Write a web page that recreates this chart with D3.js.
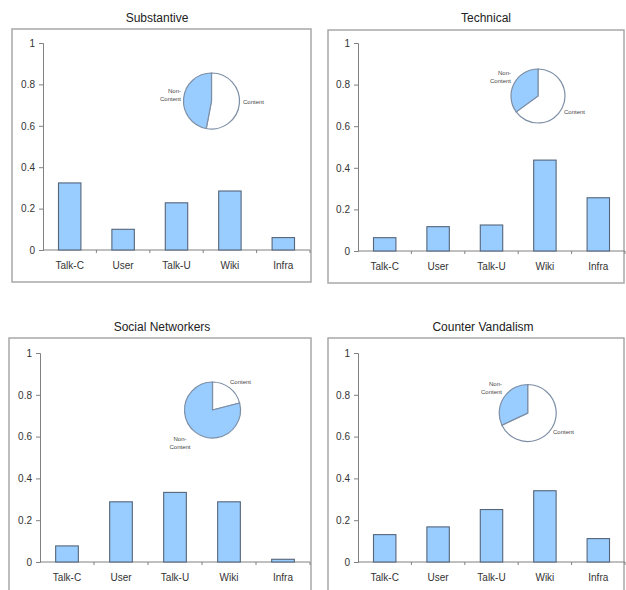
<!DOCTYPE html>
<html>
<head>
<meta charset="utf-8">
<script src="https://cdn.jsdelivr.net/npm/d3@7"></script>
<style>
  body { margin: 0; background: #fff; }
  svg { display: block; font-family: "Liberation Sans", Arial, sans-serif; }
</style>
</head>
<body>
<script>
// data
const categories = ["Talk-C", "User", "Talk-U", "Wiki", "Infra"];
const titles = ["Substantive", "Technical", "Social Networkers", "Counter Vandalism"];
const substantive = [0.324, 0.10, 0.228, 0.285, 0.06];
const technical = [0.064, 0.117, 0.125, 0.437, 0.256];
const social = [0.077, 0.288, 0.333, 0.288, 0.013];
const counterVandalism = [0.131, 0.168, 0.251, 0.341, 0.112];
const contentShare = [0.53, 0.65, 0.21, 0.68];
const yTicks = [0, 0.2, 0.4, 0.6, 0.8, 1];

const series = [substantive, technical, social, counterVandalism];

// where each panel sits on the page
const layout = [
  { box: [12, 29, 299, 253], ax: 43, x1: 310, y0: 250, y1: 43, tx: 157, ty: 22,
    pie: [211.5, 101, 28],
    nonLbl: { x: 181, y: 93, anchor: "end" }, conLbl: { x: 243, y: 104, anchor: "start" } },
  { box: [328, 30, 296, 253], ax: 358, x1: 625, y0: 251, y1: 43, tx: 486, ty: 22,
    pie: [538, 96, 27],
    nonLbl: { x: 511, y: 75, anchor: "end" }, conLbl: { x: 564, y: 114, anchor: "start" } },
  { box: [9, 338, 302, 260], ax: 40, x1: 310, y0: 562, y1: 353, tx: 162, ty: 331,
    pie: [212.5, 410, 28],
    nonLbl: { x: 180, y: 441, anchor: "middle" }, conLbl: { x: 230, y: 384, anchor: "start" } },
  { box: [328, 338, 296, 260], ax: 358, x1: 625, y0: 562, y1: 353, tx: 483, ty: 331,
    pie: [527.7, 413, 28.5],
    nonLbl: { x: 502, y: 386, anchor: "end" }, conLbl: { x: 553, y: 434, anchor: "start" } }
];

const svg = d3.select("body").append("svg")
  .attr("width", 626)
  .attr("height", 590);

const barFill = "#99ccff", barStroke = "#55657a", axisColor = "#808080";

series.forEach((values, i) => {
  const L = layout[i];
  const g = svg.append("g");

  // frame
  g.append("rect")
    .attr("x", L.box[0]).attr("y", L.box[1])
    .attr("width", L.box[2]).attr("height", L.box[3])
    .attr("fill", "none").attr("stroke", "#a8a8a8").attr("stroke-width", 1.5);

  // title
  g.append("text")
    .attr("x", L.tx).attr("y", L.ty)
    .attr("text-anchor", "middle")
    .style("font-size", "12px").attr("fill", "#222")
    .text(titles[i]);

  const x = d3.scaleBand().domain(categories).range([L.ax, L.x1]).padding(0);
  const y = d3.scaleLinear().domain([0, 1]).range([L.y0, L.y1]);

  // y axis
  const yAxis = g.append("g")
    .attr("transform", `translate(${L.ax},0)`)
    .call(d3.axisLeft(y).tickValues(yTicks).tickSize(4).tickPadding(4).tickFormat(d3.format("~g")));
  yAxis.select(".domain").attr("stroke", axisColor);
  yAxis.selectAll(".tick line").attr("stroke", axisColor);
  yAxis.selectAll("text").style("font-size", "10px").attr("fill", "#333")
    .style("font-family", "'Liberation Sans', Arial, sans-serif");

  // x axis: ticks between categories, labels centred
  const xAxis = g.append("g").attr("transform", `translate(0,${L.y0})`);
  xAxis.append("line")
    .attr("x1", L.ax).attr("x2", L.x1)
    .attr("stroke", axisColor);
  xAxis.selectAll("line.sep")
    .data(categories.slice(1).concat(["end"]))
    .enter().append("line")
    .attr("class", "sep")
    .attr("x1", d => d === "end" ? L.x1 : x(d))
    .attr("x2", d => d === "end" ? L.x1 : x(d))
    .attr("y1", 0).attr("y2", 3)
    .attr("stroke", axisColor);
  xAxis.selectAll("text")
    .data(categories)
    .enter().append("text")
    .attr("x", d => x(d) + x.bandwidth() / 2)
    .attr("y", 19)
    .attr("text-anchor", "middle")
    .style("font-size", "10px").attr("fill", "#333")
    .text(d => d);

  // bars
  g.selectAll("rect.bar")
    .data(values)
    .enter().append("rect")
    .attr("class", "bar")
    .attr("x", (d, j) => x(categories[j]) + x.bandwidth() * 0.29)
    .attr("width", x.bandwidth() * 0.42)
    .attr("y", d => y(d))
    .attr("height", d => y(0) - y(d))
    .attr("fill", barFill)
    .attr("stroke", barStroke)
    .attr("stroke-width", 1.1);

  // inset pie: content clockwise from 12 o'clock, non-content the rest
  const [cx, cy, r] = L.pie;
  const pie = d3.pie().sort(null).value(d => d.v);
  const arc = d3.arc().innerRadius(0).outerRadius(r);
  const slices = pie([
    { k: "Content", v: contentShare[i] },
    { k: "Non-Content", v: 1 - contentShare[i] }
  ]);
  g.append("g")
    .attr("transform", `translate(${cx},${cy})`)
    .selectAll("path")
    .data(slices)
    .enter().append("path")
    .attr("d", arc)
    .attr("fill", d => d.data.k === "Content" ? "#fff" : barFill)
    .attr("stroke", "#7d8fa6")
    .attr("stroke-width", 1.2);

  const nl = g.append("text")
    .attr("text-anchor", L.nonLbl.anchor)
    .style("font-size", "6px").attr("fill", "#444");
  nl.append("tspan").attr("x", L.nonLbl.x).attr("y", L.nonLbl.y).text("Non-");
  nl.append("tspan").attr("x", L.nonLbl.x).attr("y", L.nonLbl.y + 8).text("Content");

  g.append("text")
    .attr("x", L.conLbl.x).attr("y", L.conLbl.y)
    .attr("text-anchor", L.conLbl.anchor)
    .style("font-size", "6px").attr("fill", "#444")
    .text("Content");
});
</script>
</body>
</html>
